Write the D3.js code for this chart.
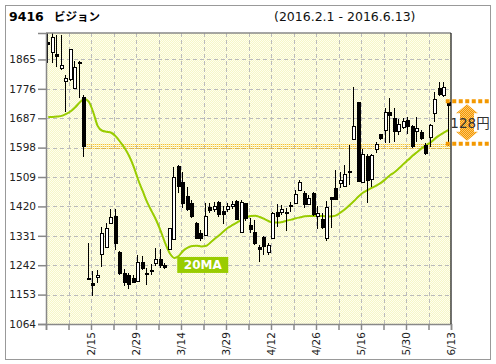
<!DOCTYPE html>
<html>
<head>
<meta charset="utf-8">
<script src="https://cdn.jsdelivr.net/npm/d3@7"></script>
<style>
  body { margin: 0; background: #fff; }
  svg { display: block; }
  text { font-family: "DejaVu Sans", "Noto Sans CJK JP", sans-serif; }
</style>
</head>
<body>
<svg width="496" height="364"></svg>
<script>
// trading days 2016.2.1 - 2016.6.13
const days = [
  "2/1", "2/2", "2/3", "2/4", "2/5", "2/8", "2/9", "2/10", "2/12", "2/15",
  "2/16", "2/17", "2/18", "2/19", "2/22", "2/23", "2/24", "2/25", "2/26", "2/29",
  "3/1", "3/2", "3/3", "3/4", "3/7", "3/8", "3/9", "3/10", "3/11", "3/14",
  "3/15", "3/16", "3/17", "3/18", "3/22", "3/23", "3/24", "3/25", "3/28", "3/29",
  "3/30", "3/31", "4/1", "4/4", "4/5", "4/6", "4/7", "4/8", "4/11", "4/12",
  "4/13", "4/14", "4/15", "4/18", "4/19", "4/20", "4/21", "4/22", "4/25", "4/26",
  "4/27", "4/28", "5/2", "5/6", "5/9", "5/10", "5/11", "5/12", "5/13", "5/16",
  "5/17", "5/18", "5/19", "5/20", "5/23", "5/24", "5/25", "5/26", "5/27", "5/30",
  "5/31", "6/1", "6/2", "6/3", "6/6", "6/7", "6/8", "6/9", "6/10", "6/13",
];
const openPrices = [
  1918, 1886, 1880, 1838, 1798, 1806, 1777, 1858, 1752, 1203,
  1189, 1205, 1276, 1296, 1372, 1391, 1283, 1218, 1212, 1202,
  1194, 1252, 1219, 1228, 1248, 1260, 1243, 1290, 1323, 1542,
  1495, 1451, 1429, 1369, 1340, 1333, 1417, 1410, 1434, 1406,
  1413, 1420, 1436, 1343, 1429, 1364, 1343, 1298, 1328, 1283,
  1323, 1402, 1401, 1404, 1423, 1431, 1470, 1460, 1429, 1460,
  1389, 1382, 1323, 1448, 1476, 1491, 1484, 1527, 1622, 1735,
  1493, 1574, 1503, 1594, 1638, 1651, 1705, 1687, 1651, 1660,
  1681, 1663, 1648, 1644, 1606, 1631, 1702, 1777, 1759, 1737,
];
const highPrices = [
  1944, 1944, 1939, 1939, 1818, 1898, 1860, 1860, 1756, 1310,
  1225, 1227, 1358, 1369, 1411, 1411, 1286, 1232, 1217, 1212,
  1273, 1271, 1233, 1247, 1293, 1291, 1248, 1356, 1540, 1545,
  1525, 1480, 1440, 1372, 1349, 1429, 1431, 1434, 1436, 1420,
  1429, 1436, 1438, 1438, 1431, 1384, 1378, 1303, 1331, 1308,
  1402, 1427, 1424, 1414, 1434, 1470, 1500, 1466, 1455, 1464,
  1420, 1399, 1436, 1450, 1530, 1525, 1545, 1606, 1782, 1737,
  1594, 1578, 1580, 1614, 1640, 1717, 1747, 1719, 1684, 1687,
  1690, 1666, 1692, 1652, 1613, 1670, 1767, 1797, 1797, 1740,
];
const lowPrices = [
  1853, 1853, 1841, 1833, 1706, 1800, 1775, 1748, 1570, 1198,
  1150, 1187, 1238, 1293, 1370, 1288, 1212, 1180, 1169, 1187,
  1191, 1228, 1182, 1212, 1240, 1235, 1232, 1288, 1318, 1462,
  1414, 1405, 1386, 1320, 1315, 1330, 1399, 1404, 1389, 1367,
  1404, 1413, 1378, 1341, 1376, 1338, 1303, 1253, 1273, 1273,
  1321, 1358, 1394, 1345, 1404, 1428, 1468, 1414, 1424, 1392,
  1352, 1352, 1314, 1354, 1440, 1476, 1482, 1484, 1620, 1493,
  1490, 1429, 1480, 1583, 1620, 1611, 1611, 1616, 1637, 1655,
  1640, 1598, 1616, 1620, 1577, 1601, 1676, 1755, 1752, 1603,
];
const closePrices = [
  1912, 1932, 1873, 1848, 1808, 1896, 1841, 1857, 1605, 1199,
  1184, 1212, 1341, 1354, 1389, 1308, 1219, 1192, 1186, 1190,
  1252, 1235, 1215, 1224, 1260, 1243, 1238, 1354, 1510, 1480,
  1430, 1411, 1391, 1323, 1325, 1391, 1407, 1420, 1399, 1397,
  1421, 1427, 1382, 1434, 1384, 1352, 1309, 1293, 1300, 1303,
  1399, 1389, 1411, 1401, 1419, 1459, 1495, 1426, 1446, 1396,
  1399, 1359, 1418, 1442, 1442, 1501, 1519, 1523, 1662, 1497,
  1578, 1500, 1576, 1608, 1626, 1707, 1695, 1648, 1671, 1678,
  1664, 1601, 1658, 1626, 1581, 1666, 1744, 1760, 1782, 1728,
];
const ma20 = [
  1691, 1691, 1692, 1694, 1700, 1708, 1720, 1735, 1745, 1737,
  1705, 1663, 1649, 1646, 1643, 1632, 1615, 1596, 1572, 1540,
  1500, 1466, 1432, 1405, 1378, 1345, 1308, 1278, 1264, 1270,
  1286, 1295, 1300, 1301, 1299, 1300, 1310, 1322, 1333, 1345,
  1356, 1364, 1372, 1380, 1387, 1391, 1392, 1388, 1382, 1375,
  1371, 1371, 1373, 1377, 1380, 1384, 1387, 1390, 1391, 1391,
  1391, 1391, 1389, 1390, 1393, 1402, 1412, 1424, 1437, 1451,
  1462, 1470, 1477, 1484, 1492, 1503, 1515, 1524, 1536, 1549,
  1561, 1574, 1585, 1596, 1606, 1614, 1626, 1636, 1644, 1652,
];
const yTickValues = [1064, 1153, 1242, 1331, 1420, 1509, 1598, 1687, 1776, 1865];
const tickEvery = 5;

const stockCode = "9416";
const stockName = "ビジョン";
const periodText = "(2016.2.1 - 2016.6.13)";
const maLabel = "20MA";
const refDay = "2/12"; // dotted level starts at this day
const refPrice = 1603;
const gapRange = [1610, 1738];
const gapLabel = "128円";

const svgWidth = 496;
const svgHeight = 364;
const svg = d3.select("svg");

const margin = { left: 46, right: 45, top: 33, bottom: 40 };
const chartWidth = svgWidth - margin.left - margin.right;
const chartHeight = svgHeight - margin.top - margin.bottom;

const green = "#99cc00";
const orange = "#f39800";

// patterns
const defs = svg.append("defs");
const bgPattern = defs
  .append("pattern")
  .attr("id", "bgDots")
  .attr("width", 2)
  .attr("height", 2)
  .attr("patternUnits", "userSpaceOnUse");
bgPattern.append("rect").attr("width", 2).attr("height", 2).attr("fill", "#ffffee");
bgPattern.append("rect").attr("width", 1).attr("height", 1).attr("fill", "#f6f6c8");
bgPattern.append("rect").attr("x", 1).attr("y", 1).attr("width", 1).attr("height", 1).attr("fill", "#f6f6c8");

const arrowPattern = defs
  .append("pattern")
  .attr("id", "arrowDots")
  .attr("width", 2)
  .attr("height", 2)
  .attr("patternUnits", "userSpaceOnUse");
arrowPattern.append("rect").attr("width", 2).attr("height", 2).attr("fill", "#fcc76e");
arrowPattern.append("rect").attr("width", 1).attr("height", 1).attr("fill", orange);
arrowPattern.append("rect").attr("x", 1).attr("y", 1).attr("width", 1).attr("height", 1).attr("fill", orange);

// outer frame
svg
  .append("rect")
  .attr("x", 5.5)
  .attr("y", 5.5)
  .attr("width", 485)
  .attr("height", 354)
  .attr("fill", "#fff")
  .attr("stroke", "#999");

// title
svg
  .append("text")
  .attr("x", 9)
  .attr("y", 21)
  .attr("font-size", 12.5)
  .attr("font-weight", "bold")
  .attr("fill", "#000")
  .text(stockCode);
svg
  .append("text")
  .attr("x", 54)
  .attr("y", 21)
  .attr("font-size", 11.5)
  .attr("font-weight", "bold")
  .attr("font-family", "Noto Sans CJK JP")
  .attr("fill", "#000")
  .text(stockName);
svg
  .append("text")
  .attr("x", 274)
  .attr("y", 21)
  .attr("font-size", 12.5)
  .attr("fill", "#111")
  .text(periodText);

const chartGroup = svg
  .append("g")
  .attr("transform", `translate(${margin.left}, ${margin.top})`);

const xScaler = d3
  .scaleLinear()
  .domain([-0.5, days.length - 0.5])
  .range([0, chartWidth]);
const yScaler = d3
  .scaleLinear()
  .domain([1064, 1945])
  .range([chartHeight, 0]);

chartGroup
  .append("rect")
  .attr("width", chartWidth)
  .attr("height", chartHeight)
  .attr("fill", "url(#bgDots)");

// tick positions on day boundaries, every 5 trading days
const xTickValues = [];
for (let j = -1; j < days.length; j += tickEvery) {
  xTickValues.push(j + 0.5);
}

// grid
const gridGroup = chartGroup.append("g").attr("shape-rendering", "crispEdges");
gridGroup
  .selectAll("line.v")
  .data(xTickValues.slice(1, -1))
  .join("line")
  .attr("class", "v")
  .attr("x1", (d) => Math.round(xScaler(d)) + 0.5)
  .attr("x2", (d) => Math.round(xScaler(d)) + 0.5)
  .attr("y1", 0)
  .attr("y2", chartHeight)
  .attr("stroke", "#bbb")
  .attr("stroke-dasharray", "4,3");
gridGroup
  .selectAll("line.h")
  .data(yTickValues.slice(1))
  .join("line")
  .attr("class", "h")
  .attr("x1", 0)
  .attr("x2", chartWidth)
  .attr("y1", (d) => Math.round(yScaler(d)) + 0.5)
  .attr("y2", (d) => Math.round(yScaler(d)) + 0.5)
  .attr("stroke", "#bbb")
  .attr("stroke-dasharray", "4,3");

// dotted reference level from 2/12
const refIndex = days.indexOf(refDay);
const refY = Math.round(yScaler(refPrice)) + 0.5;
chartGroup
  .append("g")
  .selectAll("line")
  .data([-2, 0, 2])
  .join("line")
  .attr("x1", xScaler(refIndex) - 1)
  .attr("x2", chartWidth)
  .attr("y1", (d) => refY + d)
  .attr("y2", (d) => refY + d)
  .attr("stroke", "#f5b000")
  .attr("stroke-dasharray", "1,1");

// 20MA line
const maLine = d3
  .line()
  .x((d, i) => xScaler(i))
  .y((d) => yScaler(d))
  .curve(d3.curveMonotoneX);
chartGroup
  .append("path")
  .datum(ma20)
  .attr("d", maLine)
  .attr("fill", "none")
  .attr("stroke", green)
  .attr("stroke-width", 2);

// candles
const candles = days.map((day, i) => ({
  i,
  o: openPrices[i],
  h: highPrices[i],
  l: lowPrices[i],
  c: closePrices[i],
}));
const candleGroup = chartGroup.append("g").attr("shape-rendering", "crispEdges");
candleGroup
  .selectAll("line")
  .data(candles)
  .join("line")
  .attr("x1", (d) => Math.round(xScaler(d.i)) - 0.5)
  .attr("x2", (d) => Math.round(xScaler(d.i)) - 0.5)
  .attr("y1", (d) => yScaler(d.h))
  .attr("y2", (d) => yScaler(d.l))
  .attr("stroke", "#000");
candleGroup
  .selectAll("rect")
  .data(candles)
  .join("rect")
  .attr("x", (d) => Math.round(xScaler(d.i)) - 1.5)
  .attr("y", (d) => Math.round(yScaler(Math.max(d.o, d.c))) + 0.5)
  .attr("width", 3)
  .attr("height", (d) =>
    Math.max(1, Math.round(Math.abs(yScaler(d.o) - yScaler(d.c))))
  )
  .attr("fill", (d) => (d.c < d.o ? "#000" : "#fff"))
  .attr("stroke", "#000");

// axes
const yAxisGroup = chartGroup.append("g");
yAxisGroup.call(
  d3.axisLeft(yScaler).tickValues(yTickValues).tickSize(8).tickPadding(2).tickFormat(d3.format("d"))
);
const xAxisGroup = chartGroup
  .append("g")
  .attr("transform", `translate(0, ${chartHeight})`);
xAxisGroup.call(
  d3
    .axisBottom(xScaler)
    .tickValues(xTickValues)
    .tickSize(6)
    .tickFormat((d) => {
      const j = Math.round(d - 0.5);
      return (j + 1) % (tickEvery * 2) === 0 ? days[j] : "";
    })
);
xAxisGroup
  .selectAll("text")
  .attr("transform", "rotate(-90)")
  .attr("text-anchor", "end")
  .attr("x", -8)
  .attr("y", 0)
  .attr("dy", "0.3em");

[xAxisGroup, yAxisGroup].forEach((g) => {
  g.selectAll("path, line").attr("stroke", "#888").attr("stroke-width", 1.5);
  g.selectAll("text")
    .attr("font-family", "DejaVu Sans")
    .attr("font-size", 10.5)
    .attr("fill", "#222");
});

// top and right borders
chartGroup
  .append("line")
  .attr("x1", 0)
  .attr("x2", chartWidth)
  .attr("y1", 0)
  .attr("y2", 0)
  .attr("stroke", "#888")
  .attr("stroke-width", 1.5);
chartGroup
  .append("line")
  .attr("x1", chartWidth)
  .attr("x2", chartWidth)
  .attr("y1", 0)
  .attr("y2", chartHeight)
  .attr("stroke", "#111")
  .attr("stroke-width", 1.2);

// 20MA tag next to the MA low point
const maLowIndex = d3.minIndex(ma20);
const tagX = xScaler(maLowIndex) + 3;
const tagY = yScaler(ma20[maLowIndex]) - 1;
chartGroup
  .append("rect")
  .attr("x", tagX)
  .attr("y", tagY)
  .attr("width", 51)
  .attr("height", 16)
  .attr("fill", green);
chartGroup
  .append("text")
  .attr("x", tagX + 25.5)
  .attr("y", tagY + 12.5)
  .attr("text-anchor", "middle")
  .attr("font-size", 12)
  .attr("font-weight", "bold")
  .attr("fill", "#fff")
  .text(maLabel);

// price gap bracket on the right
const gapTop = yScaler(gapRange[1]);
const gapBottom = yScaler(gapRange[0]);
const bracketX1 = xScaler(days.length - 1) - 3;
const bracketX2 = svgWidth - margin.left - 6;
chartGroup
  .selectAll("line.bracket")
  .data([gapTop, gapBottom])
  .join("line")
  .attr("class", "bracket")
  .attr("x1", bracketX1)
  .attr("x2", bracketX2)
  .attr("y1", (d) => d)
  .attr("y2", (d) => d)
  .attr("stroke", orange)
  .attr("stroke-width", 4)
  .attr("stroke-dasharray", "4,2.5");

const arrowCx = chartWidth + 16;
const headH = 9;
const arrowTop = gapTop + 3;
const arrowBottom = gapBottom - 3;
const arrowPath = d3.path();
arrowPath.moveTo(arrowCx, arrowTop);
arrowPath.lineTo(arrowCx + 11, arrowTop + headH);
arrowPath.lineTo(arrowCx + 7, arrowTop + headH);
arrowPath.lineTo(arrowCx + 7, arrowBottom - headH);
arrowPath.lineTo(arrowCx + 11, arrowBottom - headH);
arrowPath.lineTo(arrowCx, arrowBottom);
arrowPath.lineTo(arrowCx - 11, arrowBottom - headH);
arrowPath.lineTo(arrowCx - 7, arrowBottom - headH);
arrowPath.lineTo(arrowCx - 7, arrowTop + headH);
arrowPath.lineTo(arrowCx - 11, arrowTop + headH);
arrowPath.closePath();
chartGroup
  .append("path")
  .attr("d", arrowPath.toString())
  .attr("fill", "url(#arrowDots)");

chartGroup
  .append("text")
  .attr("x", arrowCx + 3)
  .attr("y", (gapTop + gapBottom) / 2 + 5)
  .attr("text-anchor", "middle")
  .attr("font-family", "Liberation Sans, Noto Sans CJK JP")
  .attr("font-size", 13.5)
  .attr("fill", "#333")
  .text(gapLabel);
</script>
</body>
</html>
